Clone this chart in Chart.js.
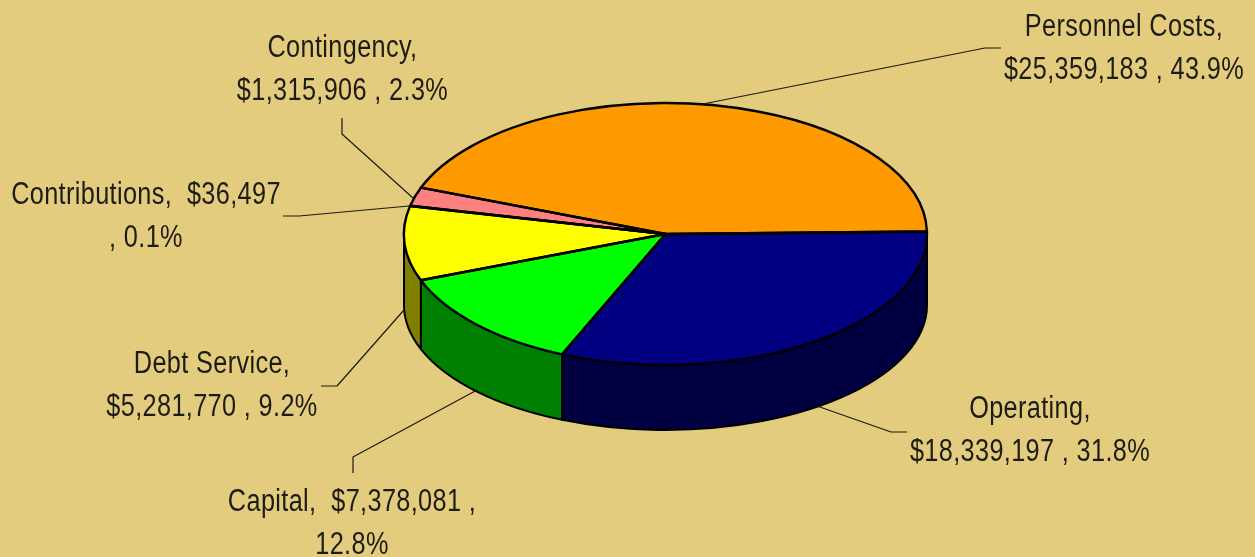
<!DOCTYPE html>
<html>
<head>
<meta charset="utf-8">
<style>html,body{margin:0;padding:0;background:#E4CC7F;overflow:hidden}canvas{display:block}</style>
<script src="https://cdn.jsdelivr.net/npm/chart.js@4"></script>
</head>
<body>
<canvas id="c" width="1255" height="557"></canvas>
<script>
const categories = ['Personnel Costs','Operating','Capital','Debt Service','Contributions','Contingency'];
const amounts = [25359183,18339197,7378081,5281770,36497,1315906];
const amountLabels = ['$25,359,183','$18,339,197','$7,378,081','$5,281,770','$36,497','$1,315,906'];
const percentLabels = ['43.9%','31.8%','12.8%','9.2%','0.1%','2.3%'];
const topColors = ['#FF9900','#000080','#00FF00','#FFFF00','#FF8080','#FF8080'];
const sideColors = ['#806000','#000040','#008000','#808000','#804040','#804040'];

const BG = '#E4CC7F';
const CX = 665.5, CY = 234, RX = 261.5, RY = 131;
const WALL_DROP = 71, WALL_RY = 125;
const FONT = '31px "Liberation Sans",Arial,sans-serif';
const TEXT_SQUEEZE = 0.815;
const LINE_GAP = 42.5;
// label layout: centre x, first baseline, leader polyline
const labelLayout = [
  {x:1124, y:36,  wrap:(c,a,p)=>[c+',', a+' , '+p], leader:[[1001,48],[985,48],[703,104]]},
  {x:1030, y:418, wrap:(c,a,p)=>[c+',', a+' , '+p], leader:[[907,432],[891,432],[817,406]]},
  {x:352,  y:511, wrap:(c,a,p)=>[c+',  '+a+' ,', p], leader:[[353,473],[353,457],[477,390]]},
  {x:212,  y:373, wrap:(c,a,p)=>[c+',', a+' , '+p], leader:[[321,386],[337,386],[404,310]]},
  {x:146,  y:204, wrap:(c,a,p)=>[c+',  '+a, ', '+p], leader:[[283,216],[299,216],[409,206]]},
  {x:342.5,y:57,  wrap:(c,a,p)=>[c+',', a+' , '+p], leader:[[342,118],[342,134],[413,198]]}
];

const pie3d = {
  id:'pie3d',
  beforeDatasetsDraw(chart){
    const ctx = chart.ctx, arcs = chart.getDatasetMeta(0).data;
    const cx = arcs[0].x, cy = arcs[0].y, k = RY/RX, rx = arcs[0].outerRadius, ry = rx*k;
    // extruded wall: front half of each slice
    ctx.save();
    ctx.lineWidth = 2; ctx.strokeStyle = '#000'; ctx.lineJoin='round';
    arcs.forEach((el,i)=>{
      for (const shift of [-2*Math.PI,0,2*Math.PI]){
        const a0 = Math.max(el.startAngle+shift,0), a1 = Math.min(el.endAngle+shift,Math.PI);
        if (a1<=a0) continue;
        ctx.beginPath();
        ctx.ellipse(cx,cy,rx,ry,0,a0,a1);
        ctx.ellipse(cx,cy+WALL_DROP,rx,WALL_RY,0,a1,a0,true);
        ctx.closePath();
        ctx.fillStyle = sideColors[i];
        ctx.fill(); ctx.stroke();
      }
    });
    ctx.restore();
    // squash the library's pie into the tilted top face
    ctx.save();
    ctx.translate(0,cy); ctx.scale(1,k); ctx.translate(0,-cy);
  },
  afterDatasetsDraw(chart){
    const ctx = chart.ctx, arcs = chart.getDatasetMeta(0).data;
    ctx.restore();
    const cx = arcs[0].x, cy = arcs[0].y, k = RY/RX, rx = arcs[0].outerRadius, ry = rx*k;
    ctx.save();
    ctx.lineWidth = 2.4; ctx.strokeStyle='#000'; ctx.lineJoin='round';
    arcs.forEach(el=>{
      ctx.beginPath();
      ctx.moveTo(cx,cy);
      ctx.ellipse(cx,cy,rx,ry,0,el.startAngle,el.endAngle);
      ctx.closePath();
      ctx.stroke();
    });
    // leaders
    ctx.lineWidth = 1.2; ctx.strokeStyle='#1a1a10';
    labelLayout.forEach(l=>{
      ctx.beginPath();
      l.leader.forEach((p,j)=> j?ctx.lineTo(p[0],p[1]):ctx.moveTo(p[0],p[1]));
      ctx.stroke();
    });
    // labels
    ctx.font = FONT; ctx.fillStyle='#1c1c14'; ctx.textAlign='center'; ctx.textBaseline='alphabetic';
    ctx.letterSpacing = '0.45px';
    labelLayout.forEach((l,i)=>{
      l.wrap(categories[i],amountLabels[i],percentLabels[i]).forEach((t,j)=>{
        ctx.save();
        ctx.translate(l.x,l.y+j*LINE_GAP);
        ctx.scale(TEXT_SQUEEZE,1);
        ctx.fillText(t,0,0);
        ctx.restore();
      });
    });
    ctx.restore();
  }
};

new Chart(document.getElementById('c'),{
  type:'pie',
  data:{labels:categories,datasets:[{data:amounts,backgroundColor:topColors,borderWidth:0,clip:false}]},
  options:{
    responsive:false,animation:false,events:[],
    rotation:-69.3,radius:RX,
    layout:{padding:{left:2*CX-1255,right:0,top:0,bottom:557-2*CY}},
    plugins:{legend:{display:false},tooltip:{enabled:false},title:{display:false}}
  },
  plugins:[{id:'bg',beforeDraw(c){c.ctx.save();c.ctx.fillStyle=BG;c.ctx.fillRect(0,0,c.width,c.height);c.ctx.restore();}},pie3d]
});
</script>
</body>
</html>
